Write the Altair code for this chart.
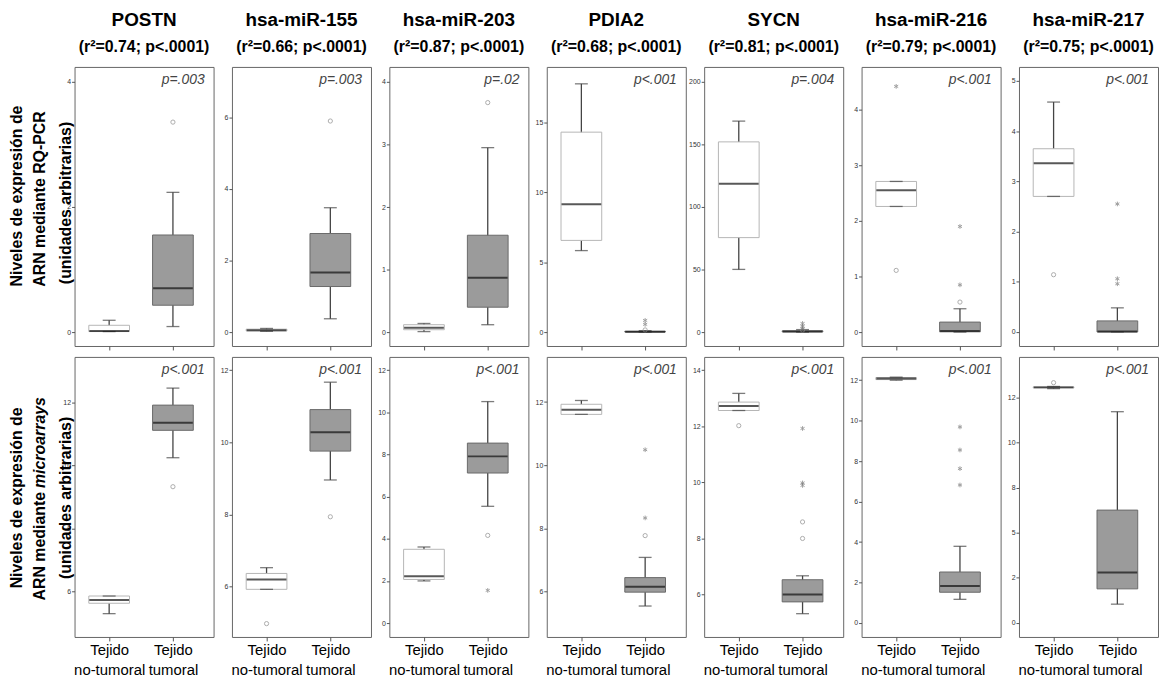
import altair as alt
import pandas as pd

genes = ["POSTN", "hsa-miR-155", "hsa-miR-203", "PDIA2", "SYCN", "hsa-miR-216", "hsa-miR-217"]
r2_text = ["(r²=0.74; p<.0001)", "(r²=0.66; p<.0001)", "(r²=0.87; p<.0001)",
           "(r²=0.68; p<.0001)", "(r²=0.81; p<.0001)", "(r²=0.79; p<.0001)",
           "(r²=0.75; p<.0001)"]
p_qpcr = ["p=.003", "p=.003", "p=.02", "p<.001", "p=.004", "p<.001", "p<.001"]
p_array = ["p<.001", "p<.001", "p<.001", "p<.001", "p<.001", "p<.001", "p<.001"]
groups = ["Tejido no-tumoral", "Tejido tumoral"]

# box summaries: [lower whisker, Q1, median, Q3, upper whisker]
qpcr_nt = [[0.01, 0.01, 0.02, 0.11, 0.19],
           [0.02, 0.03, 0.05, 0.08, 0.10],
           [0.01, 0.04, 0.07, 0.12, 0.14],
           [5.83, 6.56, 9.15, 14.31, 17.77],
           [50.1, 75.5, 118.5, 152.0, 168.6],
           [2.26, 2.26, 2.55, 2.71, 2.71],
           [2.70, 2.70, 3.36, 3.65, 4.58]]
qpcr_t = [[0.09, 0.43, 0.70, 1.55, 2.23],
          [0.37, 1.27, 1.66, 2.75, 3.47],
          [0.12, 0.40, 0.87, 1.55, 2.95],
          [0.0, 0.0, 0.02, 0.05, 0.10],
          [0.0, 0.2, 0.5, 1.0, 2.0],
          [0.0, 0.005, 0.02, 0.18, 0.42],
          [0.0, 0.0, 0.01, 0.22, 0.48]]
array_nt = [[5.30, 5.63, 5.73, 5.86, 5.86],
            [5.93, 5.93, 6.20, 6.37, 6.53],
            [2.00, 2.07, 2.22, 3.50, 3.61],
            [11.61, 11.61, 11.76, 11.93, 12.05],
            [12.56, 12.56, 12.72, 12.86, 13.17],
            [12.00, 12.03, 12.08, 12.13, 12.15],
            [13.00, 13.04, 13.07, 13.10, 13.12]]
array_t = [[10.25, 11.12, 11.36, 11.92, 12.46],
           [8.96, 9.76, 10.28, 10.91, 11.67],
           [5.54, 7.12, 7.91, 8.54, 10.51],
           [5.54, 5.98, 6.15, 6.44, 7.08],
           [5.32, 5.74, 6.00, 6.53, 6.67],
           [1.17, 1.52, 1.83, 2.52, 3.79],
           [1.04, 1.89, 2.80, 6.26, 11.72]]

# outliers: gene index, group index, value, kind ("o" circle, "*" extreme)
qpcr_out_gene = [0, 1, 2, 3, 3, 3, 4, 4, 4, 4, 5, 5, 5, 5, 5, 6, 6, 6, 6]
qpcr_out_group = [1, 1, 1, 1, 1, 1, 1, 1, 1, 1, 0, 0, 1, 1, 1, 0, 1, 1, 1]
qpcr_out_value = [3.35, 5.89, 3.67, 0.83, 0.55, 0.15, 6.9, 4.7, 2.9, 1.6,
                  1.11, 4.42, 0.54, 0.85, 1.90, 1.14, 2.55, 1.06, 0.96]
qpcr_out_kind = ["o", "o", "o", "*", "*", "o", "*", "*", "*", "o",
                 "o", "*", "o", "*", "*", "o", "*", "*", "*"]

array_out_gene = [0, 1, 1, 2, 2, 3, 3, 3, 4, 4, 4, 4, 4, 4, 5, 5, 5, 5, 6]
array_out_group = [1, 0, 1, 1, 1, 1, 1, 1, 0, 1, 1, 1, 1, 1, 1, 1, 1, 1, 0]
array_out_value = [9.33, 4.98, 7.94, 4.16, 1.55, 7.77, 8.33, 10.49, 12.02, 8.0,
                   8.59, 9.89, 9.98, 11.92, 9.69, 8.55, 7.63, 6.82, 13.33]
array_out_kind = ["o", "o", "o", "o", "*", "o", "*", "*", "o", "o",
                  "o", "*", "*", "*", "*", "*", "*", "*", "o"]

# axis ranges and ticks per panel
qpcr_domain = [[-0.22, 4.23], [-0.39, 7.40], [-0.22, 4.24], [-1.0, 18.98],
               [-11.1, 211.9], [-0.25, 4.77], [-0.28, 5.28]]
qpcr_ticks = [[0, 2, 4], [0, 2, 4, 6], [0, 1, 2, 3, 4], [0, 5, 10, 15],
              [0, 50, 100, 150, 200], [0, 1, 2, 3, 4], [0, 1, 2, 3, 4, 5]]
array_domain = [[4.56, 13.45], [4.61, 12.37], [-0.66, 12.63], [4.56, 13.43],
                [4.49, 14.47], [-0.69, 13.15], [-0.78, 14.76]]
array_ticks = [[6, 8, 10, 12], [6, 8, 10, 12], [0, 2, 4, 6, 8, 10, 12], [6, 8, 10, 12],
               [6, 8, 10, 12, 14], [0, 2, 4, 6, 8, 10, 12], [0, 2.5, 5, 7.5, 10, 12.5]]
array_tick_text = [None, None, None, None, None, None, ["0", "2", "5", "8", "10", "12"]]

ytitle_qpcr = ["Niveles de expresión de", "ARN mediante RQ-PCR", "(unidades arbitrarias)"]
ytitle_array = ["Niveles de expresión de", "ARN mediante", "microarrays", "(unidades arbitrarias)"]

FONT = "Liberation Sans"
W = 140
ASTERISK = "M0,-1L0,1M-0.87,-0.5L0.87,0.5M-0.87,0.5L0.87,-0.5"


def label_expr(vals, texts):
    expr = "datum.label"
    for v, t in zip(reversed(vals), reversed(texts)):
        expr = f"datum.value == {v} ? '{t}' : ({expr})"
    return expr


def make_panel(i, row):
    if row == 0:
        nt, tt = qpcr_nt[i], qpcr_t[i]
        dom, ticks, tick_text = qpcr_domain[i], qpcr_ticks[i], None
        og, ogr, ov, ok = qpcr_out_gene, qpcr_out_group, qpcr_out_value, qpcr_out_kind
        ptxt = p_qpcr[i]
        H = 281
    else:
        nt, tt = array_nt[i], array_t[i]
        dom, ticks, tick_text = array_domain[i], array_ticks[i], array_tick_text[i]
        og, ogr, ov, ok = array_out_gene, array_out_group, array_out_value, array_out_kind
        ptxt = p_array[i]
        H = 282

    df = pd.DataFrame({
        "group": groups,
        "lo": [nt[0], tt[0]], "q1": [nt[1], tt[1]], "med": [nt[2], tt[2]],
        "q3": [nt[3], tt[3]], "hi": [nt[4], tt[4]],
    })
    out = pd.DataFrame({
        "group": [groups[g] for gi, g in zip(og, ogr) if gi == i],
        "value": [v for gi, v in zip(og, ov) if gi == i],
        "kind": [k for gi, k in zip(og, ok) if gi == i],
    })

    yscale = alt.Scale(domain=dom, nice=False, zero=False)
    yaxis_kw = dict(values=ticks, title=None, labelFontSize=7, tickSize=3, labelPadding=1,
                    domain=False, grid=False, labelColor="#333", tickColor="#555",
                    labelFont=FONT)
    if tick_text is not None:
        yaxis_kw["labelExpr"] = label_expr(ticks, tick_text)
    yaxis = alt.Axis(**yaxis_kw)

    xscale = alt.Scale(type="point", domain=groups, padding=0.59, align=0.46)
    if row == 0:
        xaxis = alt.Axis(title=None, labels=False, ticks=True, tickSize=4, domain=False,
                         tickColor="#555")
    else:
        xaxis = alt.Axis(title=None, labelAngle=0, labelExpr="split(datum.label, ' ')",
                         labelFontSize=15, labelLineHeight=20, labelColor="black",
                         labelFont=FONT, tickSize=4, labelPadding=2, domain=False,
                         tickColor="#555")
    X = alt.X("group:N", scale=xscale, axis=xaxis)

    def Y(f):
        return alt.Y(f"{f}:Q", scale=yscale, axis=yaxis)

    base = alt.Chart(df)
    layers = [
        base.mark_rule(color="#444", strokeWidth=1.3).encode(x=X, y=Y("lo"), y2="hi:Q"),
        base.mark_bar(size=41, strokeWidth=1).encode(
            x=X, y=Y("q1"), y2="q3:Q",
            fill=alt.Fill("group:N", scale=alt.Scale(domain=groups, range=["#ffffff", "#9b9b9b"]), legend=None),
            stroke=alt.Stroke("group:N", scale=alt.Scale(domain=groups, range=["#b5b5b5", "#6a6a6a"]), legend=None),
        ),
        base.mark_tick(size=13, thickness=1.3, color="#444").encode(x=X, y=Y("lo")),
        base.mark_tick(size=13, thickness=1.3, color="#444").encode(x=X, y=Y("hi")),
        base.mark_tick(size=40, thickness=2, color="#111").encode(x=X, y=Y("med")),
    ]
    circ = out[out["kind"] == "o"]
    star = out[out["kind"] == "*"]
    if len(circ):
        layers.append(alt.Chart(circ).mark_point(shape="circle", filled=False, color="#8a8a8a",
                                                 size=18, strokeWidth=1).encode(x=X, y=Y("value")))
    if len(star):
        layers.append(alt.Chart(star).mark_point(shape=ASTERISK, filled=False, color="#777",
                                                 size=22, strokeWidth=1).encode(x=X, y=Y("value")))
    layers.append(
        alt.Chart(pd.DataFrame({"p": [ptxt]})).mark_text(
            align="right", baseline="middle", fontSize=14, fontStyle="italic",
            color="#444", font=FONT
        ).encode(x=alt.value(W - 9), y=alt.value(13), text="p:N")
    )

    if i == 0:
        if row == 0:
            specs = [(ytitle_qpcr[0], -58, 130, "center", "normal"),
                     (ytitle_qpcr[1], -35, 133, "center", "normal"),
                     (ytitle_qpcr[2], -9, 137, "center", "normal")]
        else:
            specs = [(ytitle_array[0], -58, 142, "center", "normal"),
                     (ytitle_array[1], -35, 143 - 7, "right", "normal"),
                     (ytitle_array[2], -35, 143 - 11, "left", "italic"),
                     (ytitle_array[3], -9, 142, "center", "normal")]
        for txt, xv, yv, al, st in specs:
            layers.append(
                alt.Chart(pd.DataFrame({"t": [txt]})).mark_text(
                    angle=270, align=al, baseline="middle", fontSize=16,
                    fontWeight="bold", fontStyle=st, color="black", font=FONT
                ).encode(x=alt.value(xv), y=alt.value(yv), text="t:N")
            )

    props = dict(width=W, height=H)
    if row == 0:
        props["title"] = alt.TitleParams(
            text=genes[i], subtitle=r2_text[i], fontSize=19, fontWeight="bold",
            subtitleFontSize=16, subtitleFontWeight="bold", font=FONT, subtitleFont=FONT,
            color="black", subtitleColor="black", anchor="middle", frame="group",
            offset=12, subtitlePadding=9,
        )
    return alt.layer(*layers).properties(**props)


panels = [make_panel(i, 0) for i in range(7)] + [make_panel(i, 1) for i in range(7)]

chart = alt.concat(
    *panels, columns=7, spacing={"row": 11, "column": 18.5}, bounds="flush"
).properties(
    padding=0
).configure(
    font=FONT
).configure_view(
    stroke="#666666", strokeWidth=1
)

chart.save("out.html", embed_options={"renderer": "svg", "actions": False})
